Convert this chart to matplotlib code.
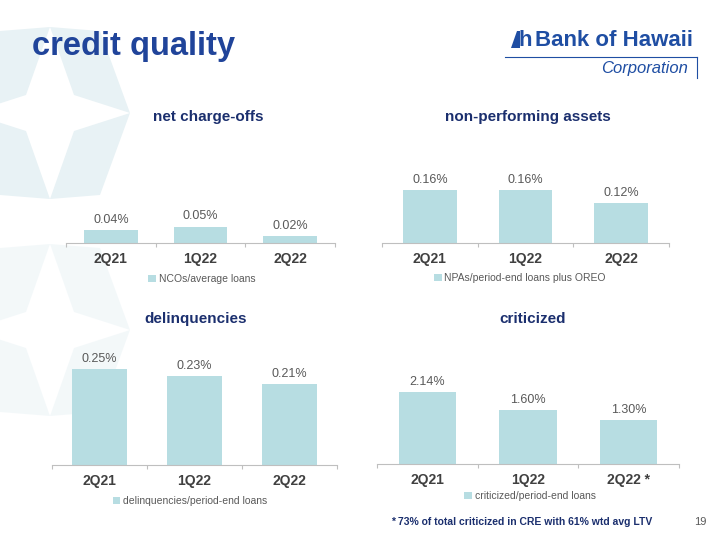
import numpy as np
import matplotlib
matplotlib.use("Agg")
import matplotlib.pyplot as plt
from matplotlib.patches import Polygon

plt.rcParams['font.family'] = ['Liberation Sans', 'DejaVu Sans']

# data
quarters = ['2Q21', '1Q22', '2Q22']
quarters_crit = ['2Q21', '1Q22', '2Q22 *']
nco = [0.04, 0.05, 0.02]
npa = [0.16, 0.16, 0.12]
delinq = [0.25, 0.23, 0.21]
crit = [2.14, 1.60, 1.30]

BAR = '#b7dde2'
NAVY = '#1b2f6e'
BLUE = '#20449a'
LOGO = '#1f4ea3'
W, H = 720, 540

fig = plt.figure(figsize=(7.2, 5.4), dpi=100)

# background: pale kites around white four-point stars
bg = fig.add_axes([0, 0, 1, 1])
bg.set_xlim(0, W)
bg.set_ylim(H, 0)
bg.axis('off')
for (cx, cy, a) in [(50, -104, 1.0), (50, 113, 1.0), (50, 330, 0.5)]:
    for sx in (-1, 1):
        for sy in (-1, 1):
            pts = [(cx + sx * 24, cy + sy * 18), (cx + sx * 80, cy),
                   (cx + sx * 50, cy + sy * 82), (cx, cy + sy * 86)]
            bg.add_patch(Polygon(pts, closed=True, fc='#e8f2f5', ec='none', alpha=a))


def px(x, y):
    return x / W, 1 - y / H


def panel(left, right, axis_y, top_y, scale, vals, labels, title, title_xy, leg, leg_xy, bw):
    l, b = px(left, axis_y)
    ax = fig.add_axes([l, b, (right - left) / W, (axis_y - top_y) / H])
    ax.patch.set_alpha(0)
    x = np.arange(len(vals))
    ax.bar(x, vals, width=bw, color=BAR, label=leg, zorder=2)
    ax.set_xlim(-0.5, len(vals) - 0.5)
    ax.set_ylim(0, (axis_y - top_y) / scale)
    for s in ['left', 'right', 'top']:
        ax.spines[s].set_visible(False)
    ax.spines['bottom'].set_color('#bfbfbf')
    ax.spines['bottom'].set_linewidth(0.8)
    ax.set_yticks([])
    ax.set_xticks(np.arange(len(vals) + 1) - 0.5)
    ax.set_xticklabels([])
    ax.tick_params(axis='x', which='major', length=3, color='#bfbfbf', width=0.8)
    ax.set_xticks(x, minor=True)
    ax.set_xticklabels(labels, minor=True, fontsize=10, fontweight='bold', color='#404040')
    ax.tick_params(axis='x', which='minor', length=0, pad=6.5)
    for xi, v in zip(x, vals):
        ax.annotate(f'{v:.2f}%', (xi, v), xytext=(0, 3), textcoords='offset points',
                    ha='center', va='bottom', fontsize=9, color='#595959', annotation_clip=False)
    fig.text(*px(*title_xy), title, ha='center', va='center', fontsize=11,
             fontweight='bold', color=NAVY)
    ax.legend(loc='center', bbox_to_anchor=px(*leg_xy), bbox_transform=fig.transFigure,
              frameon=False, fontsize=7.5, handlelength=0.75, handleheight=0.75,
              handletextpad=0.25, labelcolor='#595959')
    return ax


panel(66, 335, 243, 150, 330, nco, quarters, 'net charge-offs', (208, 117),
      'NCOs/average loans', (202, 279), 0.6)
panel(382, 669, 243, 150, 330, npa, quarters, 'non-performing assets', (528, 117),
      'NPAs/period-end loans plus OREO', (520, 278), 0.56)
panel(52, 337, 465, 345, 385, delinq, quarters, 'delinquencies', (196, 319),
      'delinquencies/period-end loans', (190, 501), 0.57)
panel(377, 679, 464, 345, 33.7, crit, quarters_crit, 'criticized', (533, 319),
      'criticized/period-end loans', (530, 496), 0.57)

# title, logo, footnote
fig.text(*px(32, 46), 'credit quality', ha='left', va='center', fontsize=23.5,
         fontweight='bold', color=BLUE)
fig.text(*px(535, 40), 'Bank of Hawaii', ha='left', va='center', fontsize=16,
         fontweight='bold', color=LOGO)
fig.text(*px(688, 69), 'Corporation', ha='right', va='center', fontsize=12,
         style='italic', color=LOGO)
fig.text(*px(519, 40), 'h', ha='left', va='center', fontsize=16,
         fontweight='bold', color=LOGO)
bg.add_patch(Polygon([(511, 48), (517, 31), (520, 31), (520, 48)], closed=True,
                     fc=LOGO, ec='none'))
bg.plot([505, 697], [57, 57], color=LOGO, lw=0.8)
bg.plot([697, 697], [57, 78], color=LOGO, lw=0.8)

fig.text(*px(522, 522), '* 73% of total criticized in CRE with 61% wtd avg LTV',
         ha='center', va='center', fontsize=7.5, fontweight='bold', color=NAVY)
fig.text(*px(700, 522), '19', ha='center', va='center', fontsize=8, color='#595959')

fig.savefig('out.png', dpi=100)
